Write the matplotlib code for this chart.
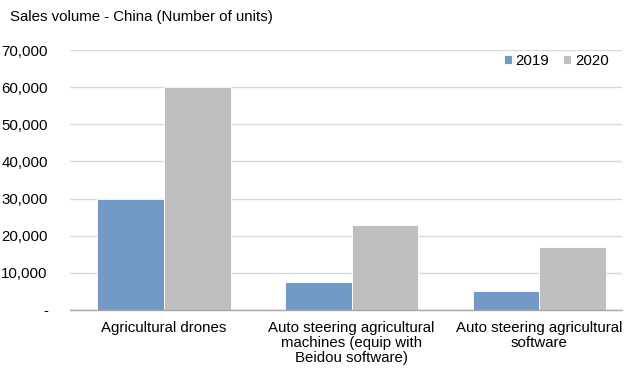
import matplotlib
matplotlib.use("Agg")
import matplotlib.pyplot as plt
from matplotlib.ticker import FuncFormatter
import numpy as np

plt.rcParams['font.family'] = ['Liberation Sans', 'DejaVu Sans']

categories = ["Agricultural drones",
              "Auto steering agricultural\nmachines (equip with\nBeidou software)",
              "Auto steering agricultural\nsoftware"]
series_names = ["2019", "2020"]
values_2019 = [30000, 7500, 5000]
values_2020 = [60000, 23000, 17000]
colors = ["#7399c6", "#bfbfbf"]

W, H = 626, 371
FS = 10.8
fig = plt.figure(figsize=(W / 100, H / 100), dpi=100)
ax = fig.add_axes([70 / W, 1 - 310 / H, (622 - 70) / W, (310 - 50) / H])

x = np.arange(len(categories))
bw = 0.355
ax.bar(x - bw / 2, values_2019, bw, color=colors[0], label=series_names[0],
       edgecolor="white", linewidth=0.6, zorder=3)
ax.bar(x + bw / 2, values_2020, bw, color=colors[1], label=series_names[1],
       edgecolor="white", linewidth=0.6, zorder=3)

ax.set_xlim(-0.5, 2.44)
ax.set_ylim(0, 70000)
ax.set_yticks(np.arange(0, 70001, 10000))
ax.yaxis.set_major_formatter(FuncFormatter(lambda v, p: "-" if v == 0 else f"{int(v):,}"))
ax.set_xticks(x)
ax.set_xticklabels(categories, fontsize=FS, linespacing=1.1)
ax.tick_params(axis="y", labelsize=FS, length=0, pad=16)
ax.tick_params(axis="x", length=0, pad=8)

ax.grid(axis="y", color="#d9d9d9", linewidth=1, zorder=0)
for s in ["top", "right", "left"]:
    ax.spines[s].set_visible(False)
ax.spines["bottom"].set_color("#a6a6a6")
ax.spines["bottom"].set_linewidth(1)
ax.spines["bottom"].set_zorder(4)

fig.text(10 / W, 1 - 17 / H, "Sales volume - China (Number of units)",
         fontsize=FS, ha="left", va="center")

ax.legend(loc="upper right", bbox_to_anchor=(0.995, 1.025), ncol=2, frameon=False,
          fontsize=FS, handlelength=0.55, handleheight=0.55, handletextpad=0.25,
          columnspacing=0.9, borderaxespad=0.3)

fig.savefig("out.png", dpi=100)
